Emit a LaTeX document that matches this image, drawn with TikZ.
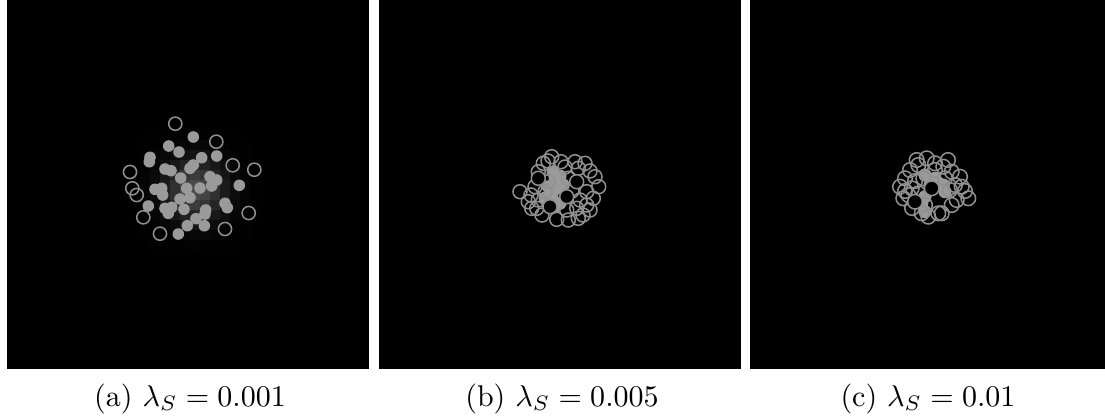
\documentclass[tikz,border=0pt]{standalone}
\usetikzlibrary{positioning}
\definecolor{dotgray}{HTML}{9A9A9A}
\definecolor{ringgray}{HTML}{909090}

\begin{document}
\begin{tikzpicture}[x=0.3333pt, y=-0.3333pt,
  panel/.style={fill=black, draw=none},
  ring/.style={draw=ringgray, line width=.5pt},
  holering/.style={draw=ringgray, fill=black, line width=.5pt},
  blob/.style={fill=dotgray, draw=none},
  caption/.style={anchor=base, inner sep=0pt}]
  \useasboundingbox (0,0) rectangle (1105,417);
  \fill[white] (0,0) rectangle (1105,417);

  \fill[panel] (7,0) rectangle (369,369);
  \fill[panel] (379,0) rectangle (741,369);
  \fill[panel] (750,0) rectangle (1105,369);

  \foreach \i in {0,...,11}
    \foreach \j in {0,...,11} {
      \pgfmathsetmacro\v{30*exp(-((\i-5)^2+(\j-5.5)^2)/9)}
      \fill[white!\v!black] (140+10*\i,130+10*\j) rectangle +(10,10);
    }
  \foreach \x/\y in {193.3/137, 168.7/146, 179/152, 150/157.3, 149.3/161.7,
      201.7/157.7, 216.7/156, 193.3/165, 190/168.3, 165/169, 171/170.7,
      180.7/178, 210/176.7, 216.7/180, 211.7/186, 239.3/185.3, 155/189.3,
      161.7/188.3, 162.7/195, 186.7/188.3, 200/188, 180/199, 190/197.7,
      225/203.3, 227.3/207.7, 148.3/206, 165/208.3, 171.7/207.3, 168.3/213.3,
      184/209.3, 205.7/210, 205/214, 196/218.7, 187.3/225.7, 204.3/225.7,
      178.3/234}
    \fill[blob] (\x,\y) circle (5.8);
  \foreach \x/\y in {175.3/123.7, 216.3/141.7, 130/172, 232.7/165.3,
      254.3/169.7, 132.3/188.3, 136.7/195, 248.7/213, 143.3/217.3,
      225/229, 160/233.7}
    \draw[ring] (\x,\y) circle (6.6);

  \foreach \x/\y in {555/178.3, 556.7/188.3, 551.7/195, 560/203.3, 555/206.7,
      563.3/185, 548.3/186.7, 553/172, 560/176, 545/198}
    \fill[blob] (\x,\y) circle (6.5);
  \foreach \x/\y in {551.7/156.7, 561/161.7, 575/161.7, 585/163.3, 543.3/163.3,
      538.3/171.7, 578.3/168.3, 595/176.7, 568.3/178.3, 520/191.7, 535/186.7,
      598.7/186.7, 545/191.7, 586.7/191.7, 580/200, 528.3/201.7, 538.3/200,
      593.3/198.3, 536.7/208.3, 566.7/210, 576.7/208.3, 556.7/219.3,
      568.3/220, 578.3/218.3, 586.7/205, 531.7/208.3, 548.3/181.7,
      565/167, 590/171, 548/161, 542/215, 590/210, 531/195, 583/215,
      572/191}
    \draw[ring] (\x,\y) circle (7);
  \foreach \x/\y in {566.7/196.7, 576.7/181.7, 550/206.7, 538.3/178.3}
    \draw[holering] (\x,\y) circle (7);

  \foreach \x/\y in {925/175, 935/178.3, 943.3/185, 945/191.7, 925/196.7,
      921.7/203.3, 925/211.7, 930/185, 938/183}
    \fill[blob] (\x,\y) circle (6.6);
  \foreach \x/\y in {916.7/160, 926.7/158.3, 935/163.3, 943.3/166.7,
      951.7/171.7, 960/176.7, 910/170, 905/178.3, 900/186.7, 911.7/188.3,
      903.3/198.3, 961.7/186.7, 968.3/198.3, 956.7/200, 950/190, 925/205,
      938.3/213.3, 941.7/213.3, 921.7/213.3, 928.3/216.7, 918.3/165,
      945/178.3, 951.7/205, 923.3/178.3, 908.3/195, 918.3/193.3,
      935/170, 955/185, 965/191, 915/181, 912/208, 948/160, 905/191}
    \draw[ring] (\x,\y) circle (7.3);
  \foreach \x/\y in {931.7/188.3, 915/201.7}
    \draw[holering] (\x,\y) circle (7.3);

  \node[caption] (capa) at (190,406) {(a) $\lambda_S = 0.001$};
  \node[caption] (capb) at (562,406) {(b) $\lambda_S = 0.005$};
  \node[caption] (capc) at (928,406) {(c) $\lambda_S = 0.01$};
\end{tikzpicture}
\end{document}
